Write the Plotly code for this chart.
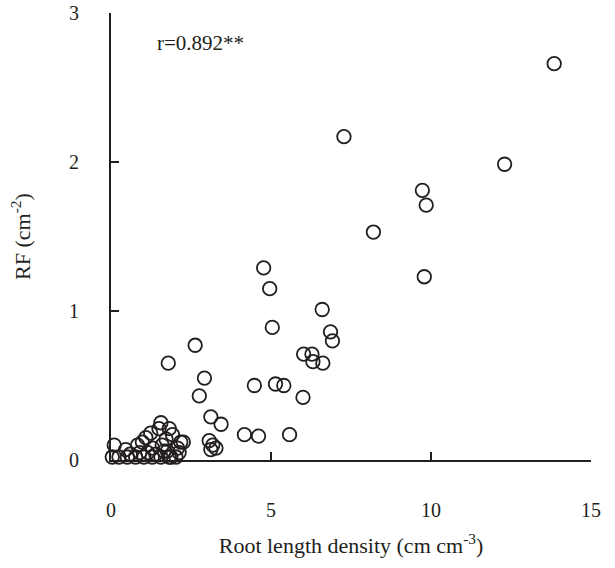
import plotly.graph_objects as go

root_length_density = [
    0.04, 0.10, 0.25, 0.46, 0.51, 0.60, 0.77, 0.83, 0.90, 1.03, 0.98, 1.09, 1.15, 1.24,
    1.29, 1.30, 1.40, 1.50, 1.56, 1.56, 1.60, 1.66, 1.72, 1.76, 1.82, 1.82, 1.87, 1.92,
    2.03, 2.08, 2.18, 2.26, 2.13, 1.79,
    2.63, 2.92, 2.76, 3.12, 3.44, 3.07, 3.18, 3.28, 3.12,
    4.17, 4.61, 5.58, 4.48, 5.14, 5.40, 6.00,
    6.02, 6.28, 6.31, 6.62, 6.60, 6.86, 6.92, 5.04,
    4.77, 4.96, 7.28, 8.20, 9.73, 9.85, 9.79, 12.30, 13.85,
]
rf = [
    0.02, 0.10, 0.02, 0.07, 0.02, 0.04, 0.02, 0.10, 0.05, 0.02, 0.12, 0.15, 0.05, 0.18,
    0.02, 0.08, 0.04, 0.21, 0.02, 0.25, 0.10, 0.06, 0.14, 0.06, 0.21, 0.02, 0.02, 0.17,
    0.02, 0.08, 0.12, 0.12, 0.05, 0.65,
    0.77, 0.55, 0.43, 0.29, 0.24, 0.13, 0.10, 0.08, 0.07,
    0.17, 0.16, 0.17, 0.50, 0.51, 0.50, 0.42,
    0.71, 0.71, 0.66, 0.65, 1.01, 0.86, 0.80, 0.89,
    1.29, 1.15, 2.17, 1.53, 1.81, 1.71, 1.23, 1.985, 2.66,
]
x_ticks = [0, 5, 10, 15]
y_ticks = [0, 1, 2, 3]
annotation_text = "r=0.892**"

ink = "#231f20"
family = "Liberation Serif, Times New Roman, serif"
tick_font = dict(family=family, size=20, color=ink)
title_font = dict(family=family, size=22, color=ink)

fig = go.Figure(go.Scatter(
    x=root_length_density, y=rf, mode="markers",
    marker=dict(symbol="circle-open", size=13.5, color=ink, line=dict(width=1.8, color=ink)),
    cliponaxis=False, showlegend=False, hoverinfo="skip",
))

fig.update_layout(
    width=615, height=568,
    margin=dict(l=111, r=24, t=13, b=108),
    paper_bgcolor="white", plot_bgcolor="white",
    font=tick_font,
    xaxis=dict(
        range=[0, 15], tickvals=x_ticks, ticks="inside", ticklen=8, tickwidth=1.6,
        tickcolor=ink, showline=True, linecolor=ink, linewidth=2, showgrid=False,
        zeroline=False, ticklabelstandoff=31, automargin=False, tickfont=tick_font,
        title=dict(text="Root length density (cm cm<sup>-3</sup>)", standoff=18, font=title_font),
    ),
    yaxis=dict(
        range=[0, 3], tickvals=y_ticks, ticks="inside", ticklen=8, tickwidth=1.6,
        tickcolor=ink, showline=True, linecolor=ink, linewidth=2, showgrid=False,
        zeroline=False, ticklabelstandoff=26, automargin=False, tickfont=tick_font,
        title=dict(text="RF (cm<sup>-2</sup>)", standoff=32, font=title_font),
    ),
    annotations=[dict(
        x=1.38, y=2.8, xref="x", yref="y", text=annotation_text, showarrow=False,
        xanchor="left", yanchor="middle", font=dict(family=family, size=21, color=ink),
    )],
)

fig.write_html("out.html", config={"displayModeBar": False},
               post_script="document.body.style.margin='0';")
